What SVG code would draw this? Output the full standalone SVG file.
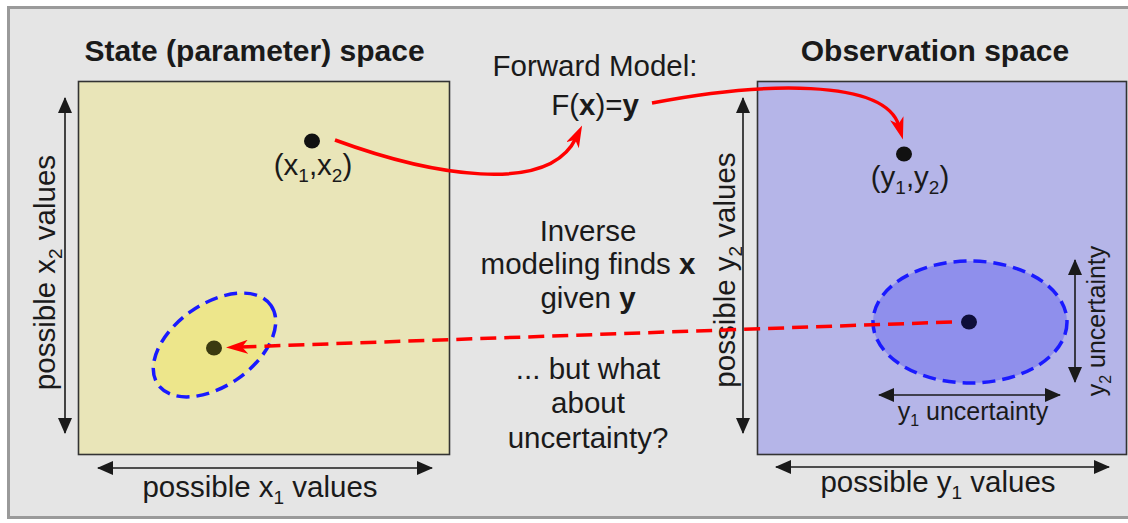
<svg xmlns="http://www.w3.org/2000/svg" width="1128" height="523" viewBox="0 0 1128 523">
<defs>
<style>
text{font-family:"Liberation Sans",Arial,sans-serif;fill:#1a1a1a;}
.t{font-size:29.5px;text-anchor:middle;}
.h{font-size:30px;font-weight:bold;text-anchor:middle;}
.s{font-size:25px;text-anchor:middle;}
.b{font-weight:bold;}
.ax{stroke:#1a1a1a;stroke-width:1.6;fill:none;marker-start:url(#bk);marker-end:url(#bk);}
.red{stroke:#ff0000;stroke-width:3.5;fill:none;}
.blue{stroke:#1a1aff;stroke-width:3.5;stroke-dasharray:13 7;}
</style>
<marker id="bk" viewBox="0 0 16 14" refX="15" refY="7" markerWidth="16" markerHeight="14" markerUnits="userSpaceOnUse" orient="auto-start-reverse">
<path d="M0,0 L16,7 L0,14 z" fill="#1a1a1a"/>
</marker>
<marker id="rd" viewBox="0 0 22 14" refX="8" refY="7" markerWidth="22" markerHeight="14" markerUnits="userSpaceOnUse" orient="auto">
<path d="M0,0 L22,7 L0,14 L6,7 z" fill="#ff0000"/>
</marker>
</defs>
<rect x="0" y="0" width="1128" height="523" fill="#ffffff"/>
<rect id="frame" x="8.5" y="7.5" width="1135" height="510" fill="#e5e5e5" stroke="#9a9a9a" stroke-width="3"/>

<g id="state-space">
<rect x="78.5" y="81.5" width="371" height="373" fill="#e9e5b8" stroke="#333333" stroke-width="1.6"/>
<text class="h" x="254.5" y="61">State (parameter) space</text>
<line class="ax" x1="65" y1="98" x2="65" y2="433"/>
<line class="ax" x1="98" y1="468" x2="432" y2="468"/>
<text class="t" transform="translate(55,272.5) rotate(-90)">possible x<tspan font-size="19" dy="7">2</tspan><tspan dy="-7"> values</tspan></text>
<text class="t" x="260" y="497">possible x<tspan font-size="19" dy="7">1</tspan><tspan dy="-7"> values</tspan></text>
</g>

<g id="x-point">
<ellipse cx="312" cy="141" rx="8" ry="7.5" fill="#111111"/>
<text class="t" x="313" y="175">(x<tspan font-size="19" dy="7">1</tspan><tspan dy="-7">,x</tspan><tspan font-size="19" dy="7">2</tspan><tspan dy="-7">)</tspan></text>
</g>

<g id="x-estimate">
<ellipse class="blue" cx="214.5" cy="345" rx="69" ry="41" transform="rotate(-35 214.5 345)" fill="#ede68b"/>
<ellipse cx="214" cy="348" rx="8" ry="7.5" fill="#3b3a10"/>
</g>

<g id="forward-model">
<text class="t" x="595" y="76">Forward Model:</text>
<text class="t" x="595" y="115">F(<tspan class="b">x</tspan>)=<tspan class="b">y</tspan></text>
</g>

<g id="inverse-text">
<text class="t" x="588" y="241">Inverse</text>
<text class="t" x="588" y="274">modeling finds <tspan class="b">x</tspan></text>
<text class="t" x="588" y="308">given <tspan class="b">y</tspan></text>
<text class="t" x="588" y="379">... but what</text>
<text class="t" x="588" y="413">about</text>
<text class="t" x="588" y="448">uncertainty?</text>
</g>

<g id="observation-space">
<rect x="757.5" y="81.5" width="369" height="373" fill="#b5b5e8" stroke="#333333" stroke-width="1.6"/>
<text class="h" x="935" y="61">Observation space</text>
<line class="ax" x1="743" y1="98" x2="743" y2="433"/>
<line class="ax" x1="776" y1="467" x2="1109" y2="467"/>
<text class="t" transform="translate(735,270) rotate(-90)">possible y<tspan font-size="19" dy="7">2</tspan><tspan dy="-7"> values</tspan></text>
<text class="t" x="938" y="492">possible y<tspan font-size="19" dy="7">1</tspan><tspan dy="-7"> values</tspan></text>
</g>

<g id="y-point">
<ellipse cx="904" cy="154" rx="8" ry="7.5" fill="#111111"/>
<text class="t" x="910" y="187">(y<tspan font-size="19" dy="7">1</tspan><tspan dy="-7">,y</tspan><tspan font-size="19" dy="7">2</tspan><tspan dy="-7">)</tspan></text>
</g>

<g id="y-uncertainty">
<ellipse class="blue" cx="970" cy="322" rx="97" ry="61" fill="#8f8fec"/>
<ellipse cx="969" cy="322" rx="8" ry="7.5" fill="#0e0e3a"/>
<line class="ax" x1="879" y1="395" x2="1060" y2="395"/>
<line class="ax" x1="1075" y1="260" x2="1075" y2="382"/>
<text class="s" x="973" y="420">y<tspan font-size="16" dy="6">1</tspan><tspan dy="-6"> uncertainty</tspan></text>
<text class="s" transform="translate(1105,321) rotate(-90)">y<tspan font-size="16" dy="6">2</tspan><tspan dy="-6"> uncertainty</tspan></text>
</g>

<g id="connectors">
<path class="red" d="M335,140 C430,175 548,196 576,138" marker-end="url(#rd)"/>
<path class="red" d="M652,103 C760,82 885,78 899,126" marker-end="url(#rd)"/>
<path class="red" d="M952,322 L240,347" stroke-width="3" stroke-dasharray="16 8" marker-end="url(#rd)"/>
</g>
</svg>
